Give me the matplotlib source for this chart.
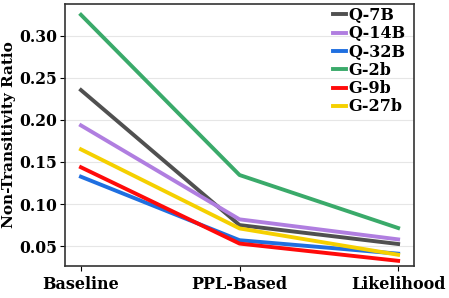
import matplotlib
matplotlib.use("Agg")
import matplotlib.pyplot as plt

methods = ["Baseline", "PPL-Based", "Likelihood"]
models = ["Q-7B", "Q-14B", "Q-32B", "G-2b", "G-9b", "G-27b"]
q7b = [0.2355, 0.0750, 0.0525]
q14b = [0.1935, 0.0818, 0.0580]
q32b = [0.1325, 0.0570, 0.0410]
g2b = [0.3250, 0.1345, 0.0715]
g9b = [0.1437, 0.0530, 0.0325]
g27b = [0.1650, 0.0710, 0.0397]
colors = ["#505050", "#b07ee0", "#1f6fe0", "#3aaa6a", "#ff0a0a", "#f5d000"]

plt.rcParams["font.family"] = "DejaVu Serif"
plt.rcParams["font.weight"] = "bold"

fig = plt.figure(figsize=(4.49, 2.98), dpi=100)
ax = fig.add_axes([0.145, 0.107, 0.777, 0.880])

x = list(range(len(methods)))
for name, vals, c in zip(models, [q7b, q14b, q32b, g2b, g9b, g27b], colors):
    ax.plot(x, vals, color=c, lw=2.8, label=name)

ax.set_xlim(-0.1, 2.1)
ax.set_ylim(0.0262, 0.338)
ax.set_xticks(x)
ax.set_xticklabels(methods, fontsize=11.5, fontweight="bold")
ax.set_yticks([0.05, 0.10, 0.15, 0.20, 0.25, 0.30])
ax.set_yticklabels(["0.05", "0.10", "0.15", "0.20", "0.25", "0.30"], fontsize=11.2, fontweight="bold")
ax.set_ylabel("Non-Transitivity Ratio", fontsize=11, fontweight="bold", labelpad=2)
ax.tick_params(axis="y", pad=2.5)
ax.grid(axis="y", color="#e6e6e6", lw=0.8)
ax.set_axisbelow(True)
for s in ax.spines.values():
    s.set_color("#333333")
    s.set_linewidth(1.2)

leg = ax.legend(loc="upper right", fontsize=11.5, frameon=False, handlelength=0.8,
                handletextpad=0.15, labelspacing=0.08, borderaxespad=0.1,
                borderpad=0.1, bbox_to_anchor=(0.985, 1.0))

fig.savefig("out.png", dpi=100)
